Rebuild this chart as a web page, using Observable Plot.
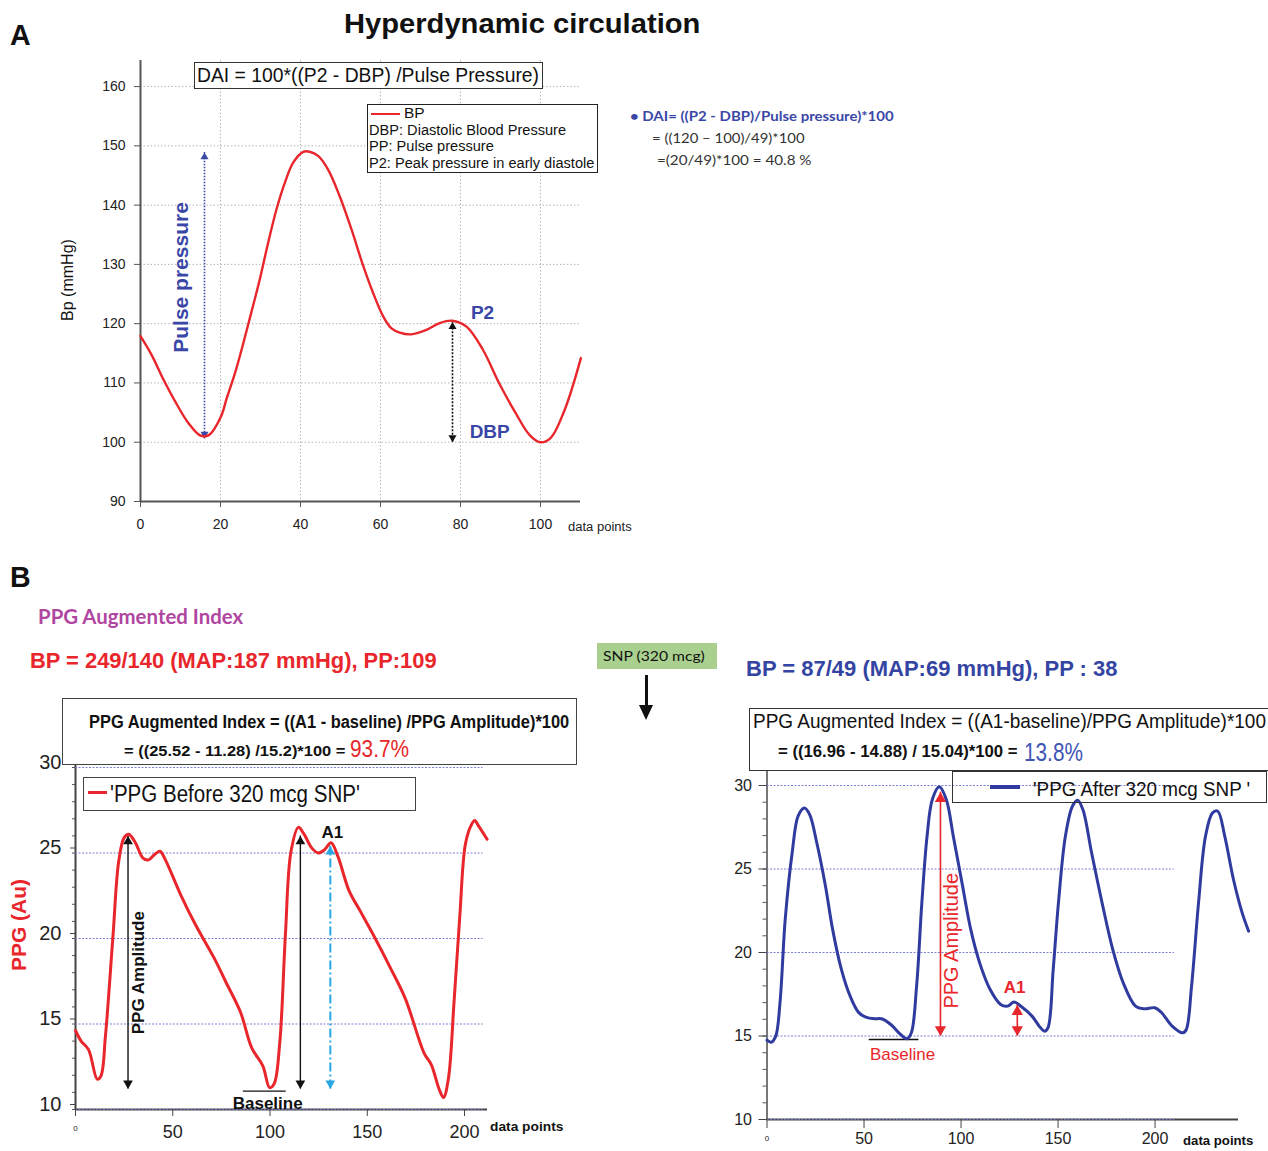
<!DOCTYPE html>
<html>
<head>
<meta charset="utf-8">
<script src="https://cdn.jsdelivr.net/npm/d3@7"></script>
<script src="https://cdn.jsdelivr.net/npm/@observablehq/plot@0.6"></script>
<style>
html,body{margin:0;padding:0;background:#fff;}
#root{position:relative;width:1268px;height:1151px;overflow:hidden;background:#fff;font-family:"Liberation Sans",Arial,sans-serif;color:#111;}
.t{position:absolute;white-space:nowrap;line-height:1;transform-origin:left center;transform:translateY(-50%);}
.box{position:absolute;box-sizing:border-box;}
.plot{position:absolute;}
.plot svg{overflow:visible;}
.cal{font-family:Lato,"Open Sans",sans-serif;}
.nar{font-family:"Liberation Sans Narrow","Liberation Sans",Arial,sans-serif;}
.rot{position:absolute;white-space:nowrap;line-height:1;transform:translate(-50%,-50%) rotate(-90deg);}
</style>
</head>
<body>
<div id="root">
  <!-- Panel A decorations -->
  <div class="t" style="left:10px;top:35px;font-size:30px;font-weight:bold;" data-w="21">A</div>
  <div class="t" style="left:344px;top:24px;font-size:28px;font-weight:bold;" data-w="356">Hyperdynamic circulation</div>
  <div id="plotA" class="plot" style="left:0;top:0;"></div>
  <div class="box" style="left:194px;top:62px;width:349px;height:27px;border:1px solid #333;background:#fff;"></div>
  <div class="t" style="left:197px;top:75px;font-size:20px;" data-w="342">DAI = 100*((P2 - DBP) /Pulse Pressure)</div>
  <div class="box" style="left:367px;top:104px;width:231px;height:69px;border:1px solid #222;background:#fff;"></div>
  <div class="box" style="left:371px;top:113px;width:29px;height:2px;background:#e8262b;"></div>
  <div class="t" style="left:404px;top:113px;font-size:14px;" data-w="21">BP</div>
  <div class="t" style="left:369px;top:130px;font-size:14px;" data-w="197">DBP: Diastolic Blood Pressure</div>
  <div class="t" style="left:369px;top:146px;font-size:14px;" data-w="125">PP: Pulse pressure</div>
  <div class="t" style="left:369px;top:163px;font-size:14px;" data-w="225">P2: Peak pressure in early diastole</div>
  <div class="t cal" style="left:630px;top:116px;font-size:14px;font-weight:bold;color:#3a47a6;" data-w="264">• DAI= ((P2 - DBP)/Pulse pressure)*100</div>
  <div class="t cal" style="left:652px;top:138px;font-size:14px;color:#333;" data-w="153">= ((120 – 100)/49)*100</div>
  <div class="t cal" style="left:657px;top:160px;font-size:14px;color:#333;" data-w="154">=(20/49)*100 = 40.8 %</div>
  <div class="rot" style="left:68px;top:280px;font-size:16px;">Bp (mmHg)</div>
  <div class="t" style="left:568px;top:527px;font-size:12px;color:#222;" data-w="64">data points</div>

  <!-- Panel B decorations -->
  <div class="t" style="left:10px;top:577px;font-size:30px;font-weight:bold;" data-w="21">B</div>
  <div class="t cal" style="left:38px;top:616px;font-size:20px;font-weight:bold;color:#b0469f;" data-w="205">PPG Augmented Index</div>
  <div class="t" style="left:30px;top:661px;font-size:22px;font-weight:bold;color:#e8262b;" data-w="407">BP = 249/140 (MAP:187 mmHg), PP:109</div>
  <div class="box" style="left:597px;top:643px;width:120px;height:26px;background:#a9d08e;"></div>
  <div class="t cal" style="left:603px;top:656px;font-size:14px;color:#111;" data-w="102">SNP (320 mcg)</div>
  <div class="box" style="left:645px;top:675px;width:3px;height:32px;background:#111;"></div>
  <div class="box" style="left:639px;top:705px;width:0;height:0;border-left:7.5px solid transparent;border-right:7.5px solid transparent;border-top:15px solid #111;"></div>
  <div class="t" style="left:746px;top:669px;font-size:22px;font-weight:bold;color:#3444a2;" data-w="372">BP = 87/49 (MAP:69 mmHg), PP : 38</div>

  <div id="plotB1" class="plot" style="left:0;top:740px;"></div>
  <div id="plotB2" class="plot" style="left:700px;top:760px;"></div>

  <div class="box" style="left:62px;top:698px;width:515px;height:67px;border:1px solid #444;background:#fff;"></div>
  <div class="t nar" style="left:89px;top:722px;font-size:18px;font-weight:bold;" data-w="480">PPG Augmented Index = ((A1 - baseline) /PPG Amplitude)*100</div>
  <div class="t nar" style="left:124px;top:751px;font-size:14px;font-weight:bold;" data-w="221">= ((25.52 - 11.28) /15.2)*100 =</div>
  <div class="t nar" style="left:350px;top:749px;font-size:24px;color:#e8262b;" data-w="59">93.7%</div>
  <div class="box" style="left:83px;top:777px;width:333px;height:34px;border:1px solid #444;background:#fff;"></div>
  <div class="box" style="left:88px;top:791px;width:19px;height:3px;background:#e8262b;"></div>
  <div class="t nar" style="left:110px;top:794px;font-size:23px;" data-w="250">'PPG Before 320 mcg SNP'</div>
  <div class="rot" style="left:18px;top:925px;font-size:21px;font-weight:bold;color:#e8262b;">PPG (Au)</div>
  <div class="t" style="left:490px;top:1126px;font-size:13px;font-weight:bold;" data-w="73">data points</div>

  <div class="box" style="left:749px;top:708px;width:520px;height:63px;border:1px solid #333;background:#fff;"></div>
  <div class="t nar" style="left:753px;top:720px;font-size:21px;" data-w="513">PPG Augmented Index = ((A1-baseline)/PPG Amplitude)*100</div>
  <div class="t nar" style="left:778px;top:752px;font-size:16px;font-weight:bold;" data-w="239">= ((16.96 - 14.88) / 15.04)*100 =</div>
  <div class="t nar" style="left:1024px;top:752px;font-size:25px;color:#3d55b5;" data-w="59">13.8%</div>
  <div class="box" style="left:952px;top:771px;width:315px;height:32px;border:1px solid #333;"></div>
  <div class="box" style="left:990px;top:785px;width:30px;height:4px;background:#2f3b9e;"></div>
  <div class="t nar" style="left:1033px;top:788px;font-size:21px;" data-w="217">'PPG After 320 mcg SNP '</div>
  <div class="t" style="left:1183px;top:1140px;font-size:13px;font-weight:bold;" data-w="70">data points</div>
</div>

<script>
// ---------- Panel A data ----------
const aXTicks = [0, 20, 40, 60, 80, 100];
const aYTicks = [90, 100, 110, 120, 130, 140, 150, 160];
const bpX = [0, 2.8, 5.8, 8.9, 12, 15, 17.1, 20.1, 21.5, 23.6, 25.7, 27.75, 29.8, 31.9, 34, 36.1, 38.2, 40.7, 42.3, 44.4, 46.9, 49.8, 52.75, 55.7, 58.2, 60.7, 62.75, 64.8, 67.7, 71.3, 74.8, 77.9, 81.5, 85.6, 89.7, 93.8, 97.3, 99.9, 102.5, 106, 110.1];
const bpY = [117.9, 114.7, 110.5, 106.6, 103.2, 101.1, 101.2, 104.3, 107.3, 111.6, 116.7, 122, 127.4, 133.6, 139.3, 143.8, 147.2, 149, 149, 148.3, 146, 141.5, 135.9, 129.7, 125.1, 121.2, 119.2, 118.5, 118.2, 118.9, 120.1, 120.5, 119.5, 115.6, 109.9, 104.9, 101.2, 100, 100.7, 105.4, 114.2];
const pulseArrow = [{x: 16, y1: 100.6, y2: 148.9}];
const dbpArrow = [{x: 78, y1: 100, y2: 120.3}];
const aLabels = [{x: 85.5, y: 121.9, t: "P2"}, {x: 87.3, y: 101.8, t: "DBP"}];
const aPulseLabel = [{x: 10.3, y: 127.8, t: "Pulse pressure"}];

// ---------- Panel B data ----------
const bXTicks = [0, 50, 100, 150, 200];
const bYTicks = [10, 15, 20, 25, 30];
const bMinorTicks = [10, 11, 12, 13, 14, 15, 16, 17, 18, 19, 20, 21, 22, 23, 24, 25, 26, 27, 28, 29, 30];
const beforeX = [0, 2.9, 6.7, 11.2, 13.1, 15.4, 19.3, 22.2, 25, 27.4, 30.8, 34.7, 37.6, 40.5, 43.4, 46.2, 53.9, 61.7, 71.3, 77.1, 84.8, 90.6, 96.3, 99.8, 102.1, 105, 107.9, 110.8, 114.6, 117.5, 121.4, 124.9, 128.1, 131.4, 134.9, 140.6, 146.4, 154.1, 161.8, 169.5, 179.2, 183, 186.9, 189.2, 191.7, 194.6, 197.5, 200.4, 203.3, 205.2, 207.1, 211.6];
const beforeY = [14.62, 14.0, 13.5, 11.77, 11.97, 14.3, 20.2, 24.5, 25.9, 26.1, 25.6, 24.7, 24.6, 24.9, 25.1, 24.6, 22.6, 20.8, 18.85, 17.5, 15.7, 13.6, 12.55, 11.28, 11.5, 13.9, 20.2, 25.1, 26.5, 26.1, 25.3, 25.0, 25.2, 25.6, 24.8, 22.8, 21.6, 20.0, 18.3, 16.5, 13.3, 12.6, 11.2, 10.7, 11.8, 16.3, 21.2, 25.5, 26.6, 26.9, 26.6, 25.8];
const afterX = [0, 2.2, 4.5, 6.7, 9.4, 13, 16.1, 19.3, 22, 25.6, 30.1, 33.8, 38.3, 42.8, 47.3, 50.9, 55.4, 59, 64.4, 68, 72.2, 74.4, 77.1, 79.8, 82.5, 85.2, 88.8, 92.4, 96, 100.5, 105, 109.6, 115, 120.4, 124, 127.3, 131.2, 136.6, 140.3, 143, 144.8, 147.5, 150.2, 153.8, 157.4, 160.1, 162.8, 167.3, 172.7, 178.2, 183.6, 189.9, 194.4, 199.8, 203.4, 208.8, 214.3, 216.1, 218.8, 222.4, 226, 229.6, 232.3, 235.9, 240.4, 244.9, 248.2];
const afterY = [14.75, 14.63, 14.99, 17.0, 22.0, 26.0, 28.2, 28.66, 28.26, 26.6, 24.0, 21.4, 19.0, 17.4, 16.4, 16.13, 16.03, 16.03, 15.63, 15.19, 14.83, 15.19, 17.98, 22.97, 26.97, 29.16, 29.92, 29.16, 26.97, 24.17, 21.38, 19.38, 17.78, 16.89, 16.79, 17.03, 16.75, 16.19, 15.59, 15.29, 15.49, 18.98, 22.97, 26.97, 28.76, 29.12, 28.56, 25.97, 22.97, 20.18, 18.18, 16.79, 16.63, 16.69, 16.39, 15.59, 15.19, 15.39, 17.98, 22.97, 26.97, 28.36, 28.46, 26.97, 24.37, 22.37, 21.28];
const beforeAmpArrows = [{x: 27, y1: 11.2, y2: 26.0}, {x: 115.6, y1: 11.2, y2: 26.0}];
const beforeA1Arrow = [{x: 131, y1: 11.2, y2: 25.4}];
const beforeBase = [{x1: 86.3, x2: 108.3, y: 11.08}];
const beforeLabels = [{x: 132, y: 26.2, t: "A1"}, {x: 98.8, y: 10.35, t: "Baseline"}];
const beforeAmpLabel = [{x: 32.4, y: 18, t: "PPG Amplitude"}];
const afterArrows = [{x: 89.4, y1: 15, y2: 29.6}, {x: 129, y1: 15, y2: 16.85}];
const afterBase = [{x1: 52.7, x2: 78.3, y: 14.79}];
const afterA1Label = [{x: 127.6, y: 17.9, t: "A1"}];
const afterBaseLabel = [{x: 69.9, y: 13.9, t: "Baseline"}];
const afterAmpLabel = [{x: 95, y: 20.7, t: "PPG Amplitude"}];

// ---------- helpers ----------
const zip = (xs, ys) => xs.map((x, i) => ({x, y: ys[i]}));
function arrowMarks(list, {color, width = 1.2, dash = null, r = 3}) {
  const tip = 1.555 * r;
  return [
    Plot.ruleX(list, {x: "x", y1: "y1", y2: "y2", stroke: color, strokeWidth: width, strokeDasharray: dash}),
    Plot.dot(list, {x: "x", y: "y2", symbol: "triangle", r, fill: color, stroke: "none", dy: tip}),
    Plot.dot(list, {x: "x", y: "y1", symbol: "triangle", r, fill: color, stroke: "none", rotate: 180, dy: -tip})
  ];
}

// ---------- Panel A ----------
const plotA = Plot.plot({
  width: 680, height: 545,
  marginLeft: 140, marginRight: 100, marginTop: 60, marginBottom: 44,
  x: {domain: [0, 110], axis: null, label: null},
  y: {domain: [90, 164.4], axis: null, label: null},
  style: {fontFamily: '"Liberation Sans", Arial, sans-serif', background: "transparent", overflow: "visible", color: "#222"},
  marks: [
    Plot.gridY({ticks: aYTicks.slice(1), stroke: "#999", strokeOpacity: 0.9, strokeDasharray: "1.5,2", strokeWidth: 0.8}),
    Plot.gridX({ticks: aXTicks.slice(1), stroke: "#999", strokeOpacity: 0.9, strokeDasharray: "1.5,2", strokeWidth: 0.8}),
    Plot.ruleX([0], {y1: 90, y2: 164.4, stroke: "#555", strokeWidth: 2}),
    Plot.ruleY([90], {x1: 0, x2: 110, stroke: "#555", strokeWidth: 2}),
    Plot.axisY({ticks: aYTicks, tickSize: 6, tickPadding: 9, fontSize: 14, label: null, stroke: "#555"}),
    Plot.axisX({ticks: aXTicks, tickSize: 6, tickPadding: 12, fontSize: 14, label: null, stroke: "#555"}),
    ...arrowMarks(pulseArrow, {color: "#3a47a6", width: 1.6, dash: "1.5,1.5", r: 3}),
    ...arrowMarks(dbpArrow, {color: "#111", width: 1.6, dash: "2,1.5", r: 3}),
    Plot.line(zip(bpX, bpY), {x: "x", y: "y", stroke: "#e8262b", strokeWidth: 2.4, curve: "catmull-rom"}),
    Plot.text(aLabels, {x: "x", y: "y", text: "t", fontSize: 19, fontWeight: "bold", fill: "#3a47a6"}),
    Plot.text(aPulseLabel, {x: "x", y: "y", text: "t", fontSize: 21, fontWeight: "bold", fill: "#3a47a6", rotate: -90})
  ]
});
document.getElementById("plotA").append(plotA);

// ---------- Panel B, before SNP ----------
const gridBlue = {stroke: "#6f73d0", strokeOpacity: 0.9, strokeDasharray: "2,1.5", strokeWidth: 1};
const plotB1 = Plot.plot({
  width: 580, height: 411,
  marginLeft: 75, marginRight: 93, marginTop: 27, marginBottom: 42,
  x: {domain: [0, 211.8], axis: null, label: null},
  y: {domain: [10, 30], axis: null, label: null},
  style: {fontFamily: '"Liberation Sans Narrow", "Liberation Sans", Arial, sans-serif', background: "transparent", overflow: "visible", color: "#222"},
  marks: [
    Plot.ruleX([0], {y1: 10, y2: 30.4, stroke: "#444", strokeWidth: 2}),
    Plot.ruleY([10], {x1: 0, x2: 211.8, stroke: "#444", strokeWidth: 2}),
    Plot.ruleY(bYTicks, {x1: 0, x2: 209.5, ...gridBlue}),
    Plot.axisY({ticks: bMinorTicks, tickSize: 3, tickFormat: () => "", label: null, stroke: "#555"}),
    Plot.axisY({ticks: bYTicks, tickSize: 5, tickPadding: 9, fontSize: 20, label: null, stroke: "#444", dy: -5}),
    Plot.axisX({ticks: bXTicks, tickSize: 7, tickPadding: 9, fontSize: 18, label: null, stroke: "#444", tickFormat: d => d === 0 ? "" : d}),
    Plot.text(["0"], {x: 0, y: 10, dy: 19, fontSize: 8, fill: "#222"}),
    Plot.ruleY(beforeBase, {x1: "x1", x2: "x2", y: "y", stroke: "#111", strokeWidth: 1.3}),
    ...arrowMarks(beforeAmpArrows, {color: "#111", width: 1.4, r: 3.6}),
    ...arrowMarks(beforeA1Arrow, {color: "#2aa7e0", width: 2, dash: "9,3,2,3", r: 3.6}),
    Plot.line(zip(beforeX, beforeY), {x: "x", y: "y", stroke: "#e8262b", strokeWidth: 3, curve: "catmull-rom"}),
    Plot.text(beforeLabels, {x: "x", y: "y", text: "t", fontSize: 17, fontWeight: "bold", fill: "#111", fontFamily: '"Liberation Sans", Arial, sans-serif'}),
    Plot.text(beforeAmpLabel, {x: "x", y: "y", text: "t", fontSize: 17, fontWeight: "bold", fill: "#111", rotate: -90, fontFamily: '"Liberation Sans", Arial, sans-serif'})
  ]
});
document.getElementById("plotB1").append(plotB1);

// ---------- Panel B, after SNP ----------
const plotB2 = Plot.plot({
  width: 568, height: 391,
  marginLeft: 66.5, marginRight: 30, marginTop: 25, marginBottom: 32,
  x: {domain: [0, 243], axis: null, label: null},
  y: {domain: [10, 30], axis: null, label: null},
  style: {fontFamily: '"Liberation Sans", Arial, sans-serif', background: "transparent", overflow: "visible", color: "#222"},
  marks: [
    Plot.ruleX([0], {y1: 10, y2: 30.9, stroke: "#555", strokeWidth: 1.6}),
    Plot.ruleY([10], {x1: 0, x2: 243, stroke: "#444", strokeWidth: 1.8}),
    Plot.ruleY(bYTicks, {x1: 0, x2: 210, ...gridBlue}),
    Plot.axisY({ticks: bMinorTicks, tickSize: 4, tickFormat: () => "", label: null, stroke: "#555"}),
    Plot.axisY({ticks: bYTicks, tickSize: 8, tickPadding: 7, fontSize: 16, label: null, stroke: "#444"}),
    Plot.axisX({ticks: bXTicks, tickSize: 9, tickPadding: 4, fontSize: 16, label: null, stroke: "#444", tickFormat: d => d === 0 ? "" : d}),
    Plot.text(["0"], {x: 0, y: 10, dy: 19, fontSize: 8, fill: "#222"}),
    Plot.ruleY(afterBase, {x1: "x1", x2: "x2", y: "y", stroke: "#111", strokeWidth: 1.3}),
    Plot.line(zip(afterX, afterY), {x: "x", y: "y", stroke: "#2f3b9e", strokeWidth: 3, curve: "catmull-rom"}),
    ...arrowMarks(afterArrows, {color: "#e8262b", width: 1.6, r: 4.2}),
    Plot.text(afterA1Label, {x: "x", y: "y", text: "t", fontSize: 17, fontWeight: "bold", fill: "#e8262b"}),
    Plot.text(afterBaseLabel, {x: "x", y: "y", text: "t", fontSize: 17, fill: "#e8262b"}),
    Plot.text(afterAmpLabel, {x: "x", y: "y", text: "t", fontSize: 20, fill: "#e8262b", rotate: -90})
  ]
});
document.getElementById("plotB2").append(plotB2);

// fit overlay texts to measured widths
document.querySelectorAll("[data-w]").forEach(el => {
  const w = el.offsetWidth;
  if (w > 0) el.style.transform = `translateY(-50%) scaleX(${(+el.dataset.w / w).toFixed(4)})`;
});
</script>
</body>
</html>
